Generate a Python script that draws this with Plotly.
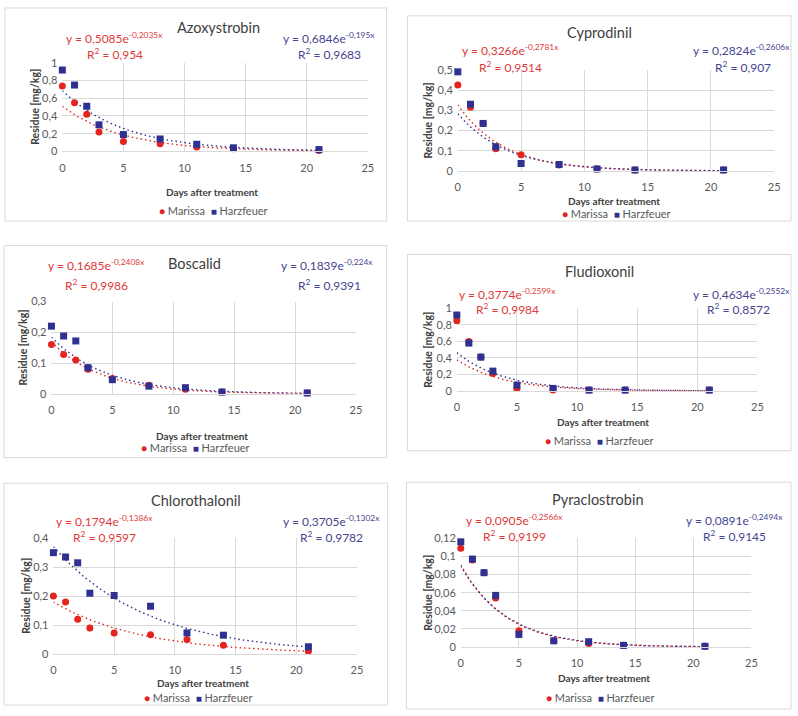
import numpy as np
import plotly.graph_objects as go

W, H = 798, 716

days = [0, 1, 2, 3, 5, 8, 11, 14, 21]

titles = ["Azoxystrobin", "Cyprodinil", "Boscalid", "Fludioxonil", "Chlorothalonil", "Pyraclostrobin"]
series_names = ["Marissa", "Harzfeuer"]

marissa = [
    [0.74, 0.55, 0.42, 0.22, 0.11, 0.085, 0.05, 0.03, 0.01],
    [0.425, 0.315, 0.235, 0.11, 0.08, 0.03, 0.01, 0.005, 0.005],
    [0.16, 0.128, 0.11, 0.08, 0.05, 0.028, 0.015, 0.006, 0.003],
    [0.85, 0.60, 0.41, 0.21, 0.03, 0.01, 0.01, 0.01, 0.01],
    [0.20, 0.18, 0.12, 0.09, 0.073, 0.067, 0.05, 0.03, 0.01],
    [0.109, 0.096, 0.082, 0.054, 0.018, 0.007, 0.004, 0.002, 0.001],
]
harzfeuer = [
    [0.92, 0.75, 0.51, 0.30, 0.19, 0.14, 0.08, 0.04, 0.02],
    [0.49, 0.33, 0.235, 0.12, 0.037, 0.032, 0.01, 0.005, 0.005],
    [0.22, 0.188, 0.172, 0.085, 0.046, 0.025, 0.02, 0.006, 0.003],
    [0.92, 0.58, 0.41, 0.24, 0.07, 0.03, 0.01, 0.01, 0.01],
    [0.35, 0.335, 0.315, 0.21, 0.202, 0.165, 0.073, 0.065, 0.025],
    [0.116, 0.097, 0.082, 0.057, 0.014, 0.007, 0.006, 0.002, 0.001],
]

# exponential trendline coefficients  y = a * exp(b x)
m_a = [0.5085, 0.3266, 0.1685, 0.3774, 0.1794, 0.0905]
m_b = [-0.2035, -0.2781, -0.2408, -0.2599, -0.1386, -0.2566]
m_r2 = ["0,954", "0,9514", "0,9986", "0,9984", "0,9597", "0,9199"]
h_a = [0.6846, 0.2824, 0.1839, 0.4634, 0.3705, 0.0891]
h_b = [-0.195, -0.2606, -0.224, -0.2552, -0.1302, -0.2494]
h_r2 = ["0,9683", "0,907", "0,9391", "0,8572", "0,9782", "0,9145"]

y_max = [1, 0.5, 0.3, 1, 0.4, 0.12]
y_ticks = [
    [0, 0.2, 0.4, 0.6, 0.8, 1],
    [0, 0.1, 0.2, 0.3, 0.4, 0.5],
    [0, 0.1, 0.2, 0.3],
    [0, 0.2, 0.4, 0.6, 0.8, 1],
    [0, 0.1, 0.2, 0.3, 0.4],
    [0, 0.02, 0.04, 0.06, 0.08, 0.1, 0.12],
]
y_ticktext = [
    ["0", "0,2", "0,4", "0,6", "0,8", "1"],
    ["0", "0,1", "0,2", "0,3", "0,4", "0,5"],
    ["0", "0,1", "0,2", "0,3"],
    ["0", "0,2", "0,4", "0,6", "0,8", "1"],
    ["0", "0,1", "0,2", "0,3", "0,4"],
    ["0", "0,02", "0,04", "0,06", "0,08", "0,1", "0,12"],
]
x_ticks = [0, 5, 10, 15, 20, 25]

def fmt(v):
    return str(v).replace(".", ",")

# layout (pixels)
panels = [
    dict(plot=(60, 369, 57, 147), border=(2, 1, 388, 218), title=(218, 21),
         req=(113, 32), rr2=(113, 48), beq=(330, 32), br2=(330, 48),
         xt=(211, 188), leg=(213, 207), yt=33),
    dict(plot=(460, 780, 64, 167), border=(409, 9, 797, 218), title=(603, 26),
         req=(513, 44), rr2=(513, 61), beq=(747, 44), br2=(748, 61),
         xt=(618, 198), leg=(620, 210), yt=430),
    dict(plot=(49, 357, 300, 394), border=(1, 243, 388, 459), title=(194, 261),
         req=(95, 263), rr2=(95, 283), beq=(328, 263), br2=(330, 283),
         xt=(201, 437), leg=(195, 449), yt=20),
    dict(plot=(459, 763, 307, 391), border=(409, 252, 797, 452), title=(603, 269),
         req=(510, 292), rr2=(510, 308), beq=(747, 292), br2=(744, 308),
         xt=(607, 423), leg=(603, 442), yt=430),
    dict(plot=(51, 358, 541, 659), border=(1, 485, 389, 711), title=(195, 503),
         req=(103, 523), rr2=(103, 540), beq=(332, 523), br2=(332, 540),
         xt=(202, 688), leg=(198, 703), yt=23),
    dict(plot=(463, 757, 541, 652), border=(408, 484, 797, 715), title=(602, 502),
         req=(517, 522), rr2=(517, 539), beq=(740, 522), br2=(740, 539),
         xt=(608, 683), leg=(604, 703), yt=430),
]

RED = "#E3241F"
BLUE = "#2E3190"
RED_TXT = "#E0393A"
BLUE_TXT = "#45458F"
GRID = "#D9D9D9"
TICK = "#595959"
FONT = "Lato"

def px(x):
    return x / W

def py(y):
    return 1 - y / H

fig = go.Figure()
annotations = []
shapes = []
layout_axes = {}

xfit = np.linspace(0, 21, 120)

def ann(text, x, y, size, color, angle=0):
    annotations.append(dict(text=text, x=px(x), y=py(y), xref="paper", yref="paper",
                            showarrow=False, xanchor="center", yanchor="middle",
                            textangle=angle,
                            font=dict(family=FONT, size=size, color=color)))

for i, p in enumerate(panels):
    n = i + 1
    xa = "x" if n == 1 else f"x{n}"
    ya = "y" if n == 1 else f"y{n}"
    x0, x1, yt_, yb_ = p["plot"]
    layout_axes["xaxis" if n == 1 else f"xaxis{n}"] = dict(
        domain=[px(x0), px(x1)], anchor=ya, range=[0, 25],
        tickvals=x_ticks, ticktext=[str(t) for t in x_ticks],
        showgrid=True, gridcolor=GRID, gridwidth=1, zeroline=False,
        showline=True, linecolor=GRID, linewidth=1, ticks="",
        tickfont=dict(family=FONT, size=11, color=TICK), ticklabelstandoff=6,
    )
    layout_axes["yaxis" if n == 1 else f"yaxis{n}"] = dict(
        domain=[py(yb_), py(yt_)], anchor=xa, range=[0, y_max[i]],
        tickvals=y_ticks[i], ticktext=y_ticktext[i],
        showgrid=True, gridcolor=GRID, gridwidth=1, zeroline=False,
        showline=False, ticks="",
        tickfont=dict(family=FONT, size=11, color=TICK), ticklabelstandoff=4,
    )
    # trendlines
    fig.add_trace(go.Scatter(
        x=xfit, y=m_a[i] * np.exp(m_b[i] * xfit), mode="lines",
        line=dict(color=RED, width=1.4, dash="1.5px,3px"), xaxis=xa, yaxis=ya,
        showlegend=False, hoverinfo="skip"))
    fig.add_trace(go.Scatter(
        x=xfit, y=h_a[i] * np.exp(h_b[i] * xfit), mode="lines",
        line=dict(color=BLUE, width=1.4, dash="1.5px,3px"), xaxis=xa, yaxis=ya,
        showlegend=False, hoverinfo="skip"))
    fig.add_trace(go.Scatter(
        x=days, y=marissa[i], mode="markers", name=series_names[0],
        marker=dict(symbol="circle", size=7, color=RED),
        xaxis=xa, yaxis=ya, showlegend=False, cliponaxis=False))
    fig.add_trace(go.Scatter(
        x=days, y=harzfeuer[i], mode="markers", name=series_names[1],
        marker=dict(symbol="square", size=7, color=BLUE),
        xaxis=xa, yaxis=ya, showlegend=False, cliponaxis=False))

    bx0, by0, bx1, by1 = p["border"]
    shapes.append(dict(type="rect", xref="paper", yref="paper",
                       x0=px(bx0), x1=px(bx1), y0=py(by1), y1=py(by0),
                       line=dict(color=GRID, width=1), layer="below"))

    ann(titles[i], p["title"][0], p["title"][1], 14.5, "#404040")
    ann(f"y = {fmt(m_a[i])}e<sup>{fmt(m_b[i])}x</sup>", p["req"][0], p["req"][1], 12, RED_TXT)
    ann(f"R<sup>2</sup> = {m_r2[i]}", p["rr2"][0], p["rr2"][1], 12, RED_TXT)
    ann(f"y = {fmt(h_a[i])}e<sup>{fmt(h_b[i])}x</sup>", p["beq"][0], p["beq"][1], 12, BLUE_TXT)
    ann(f"R<sup>2</sup> = {h_r2[i]}", p["br2"][0], p["br2"][1], 12, BLUE_TXT)
    ann("<b>Days after treatment</b>", p["xt"][0], p["xt"][1], 10, "#404040")
    ann("<b>Residue [mg/kg]</b>", p["yt"], (yt_ + yb_) / 2, 10.5, "#404040", -90)
    legend_text = (f'<span style="color:{RED};font-size:10px">●</span> {series_names[0]}'
                   f'&nbsp;&nbsp;<span style="color:{BLUE};font-size:10px">■</span> {series_names[1]}')
    ann(legend_text, p["leg"][0], p["leg"][1], 11, TICK)

fig.update_layout(
    width=W, height=H, margin=dict(l=0, r=0, t=0, b=0),
    paper_bgcolor="white", plot_bgcolor="white",
    annotations=annotations, shapes=shapes, showlegend=False,
    **layout_axes,
)

fig.write_html("out.html", config={"displayModeBar": False},
               post_script="document.body.style.margin='0';document.body.style.overflow='hidden';")
